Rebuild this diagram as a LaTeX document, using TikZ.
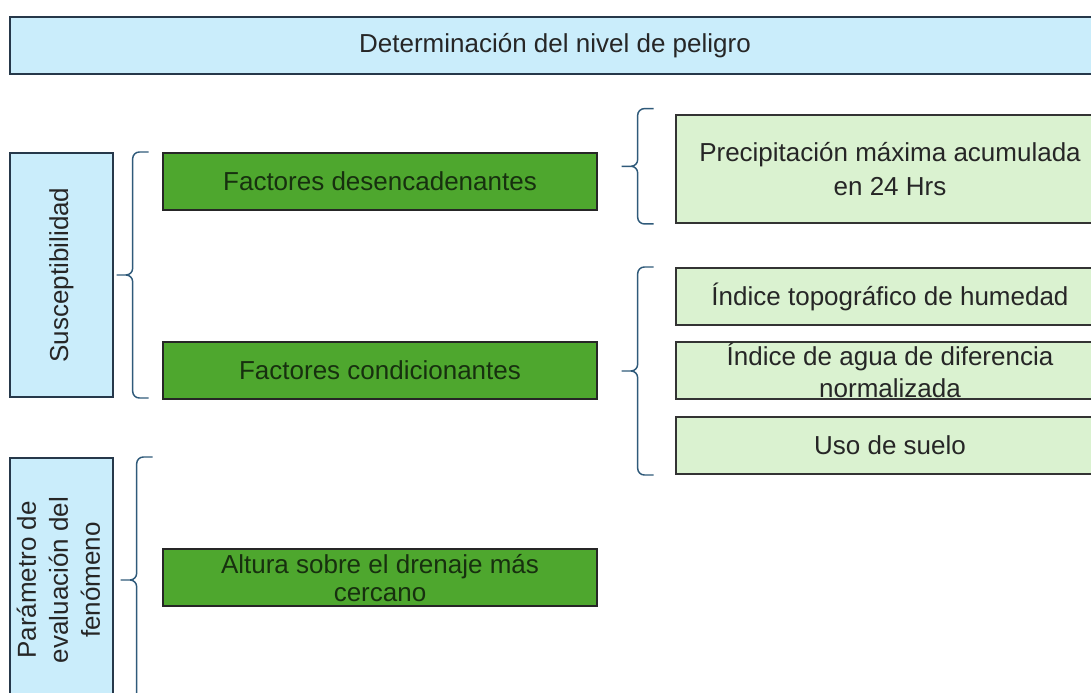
\documentclass[tikz,border=0pt]{standalone}
\usepackage{fontspec}
\setmainfont{Liberation Sans}
\usepackage{graphicx}
\usepackage{xcolor}
\definecolor{pale-blue}{HTML}{CAEDFB}
\definecolor{pale-green}{HTML}{DAF2D0}
\definecolor{mid-green}{HTML}{4EA72E}
\definecolor{dark-edge}{HTML}{26384A}
\definecolor{dark-green}{HTML}{17300F}
\definecolor{brace-blue}{HTML}{2F5A7A}
\usepackage{tikz}
\usetikzlibrary{positioning}
\usetikzlibrary{calc}
\tikzset{header/.style = {draw=dark-edge, line width=1.5pt, fill=pale-blue, text=black!85, minimum width=817.5pt, minimum height=42.75pt, inner sep=0pt}}
\tikzset{groupbox/.style = {draw=dark-edge, line width=1.5pt, fill=pale-blue, text=black!85, minimum width=77.25pt, minimum height=183pt, inner sep=0pt}}
\tikzset{factor/.style = {draw=black!85, line width=1.5pt, fill=mid-green, text=dark-green, minimum width=325.5pt, minimum height=42.75pt, inner sep=0pt, align=center}}
\tikzset{leaf/.style = {draw=black!80, line width=1.5pt, fill=pale-green, text=black!85, minimum width=321pt, minimum height=42.75pt, inner sep=0pt, align=center}}
\tikzset{brc/.style = {draw=brace-blue, line width=1.1pt, rounded corners=5pt,
  to path={(\tikztostart) -- ++(-12pt,0) |- ($(\tikztostart)!.5!(\tikztotarget)+(-24pt,0)$)
           (\tikztotarget) -- ++(-12pt,0) |- ($(\tikztostart)!.5!(\tikztotarget)+(-24pt,0)$)}}}

\begin{document}
\begin{tikzpicture}[auto,
  node distance = 36pt,
  font=\fontsize{19.5}{24}\selectfont
]
\useasboundingbox (0,0) rectangle (818.25pt,519pt);

\node[header] (t0) at (416.25pt,484.875pt) {Determinación del nivel de peligro};
\node[groupbox, below right=57.75pt and 0pt of t0.south west] (g1) {\rotatebox{90}{Susceptibilidad}};
\node[factor, below right=0pt and 36pt of g1.north east] (f1) {Factores desencadenantes};
\node[factor, below=97.5pt of f1] (f2) {Factores condicionantes};
\node[groupbox, below=44.25pt of g1] (g2) {\rotatebox{90}{\begin{tabular}{@{}c@{}}Parámetro de\\evaluación del\\fenómeno\end{tabular}}};
\node[factor, right=of g2, yshift=1.5pt, font=\fontsize{19.5}{21}\selectfont] (f3) {Altura sobre el drenaje más\\cercano};
% right column, boxes run past the right edge
\node[leaf, right=57.75pt of f1, yshift=9.4pt, minimum height=81pt, font=\fontsize{19.5}{25}\selectfont] (c1) {Precipitación máxima acumulada\\en 24 Hrs};
\node[leaf, right=57.75pt of f2, font=\fontsize{19.5}{24.5}\selectfont] (c3) {Índice de agua de diferencia\\normalizada};
\node[leaf, above=11.25pt of c3] (c2) {Índice topográfico de humedad};
\node[leaf, below=12pt of c3] (c4) {Uso de suelo};

\coordinate (k1) at ([xshift=26pt]g1.south east);
\coordinate (k2) at ([xshift=26pt]g1.north east);
\coordinate (k3) at ([xshift=29pt]g2.south east);
\coordinate (k4) at ([xshift=29pt]g2.north east);
\coordinate (k5) at ([xshift=-16pt]c1.south west);
\coordinate (k6) at ([shift={(-16pt,4pt)}]c1.north west);
\coordinate (k7) at ([xshift=-16pt]c4.south west);
\coordinate (k8) at ([xshift=-16pt]c2.north west);

\draw[brc] (k1) to (k2);
\draw[brc] (k3) to (k4);
\draw[brc] (k5) to (k6);
\draw[brc] (k7) to (k8);

\end{tikzpicture}
\end{document}
